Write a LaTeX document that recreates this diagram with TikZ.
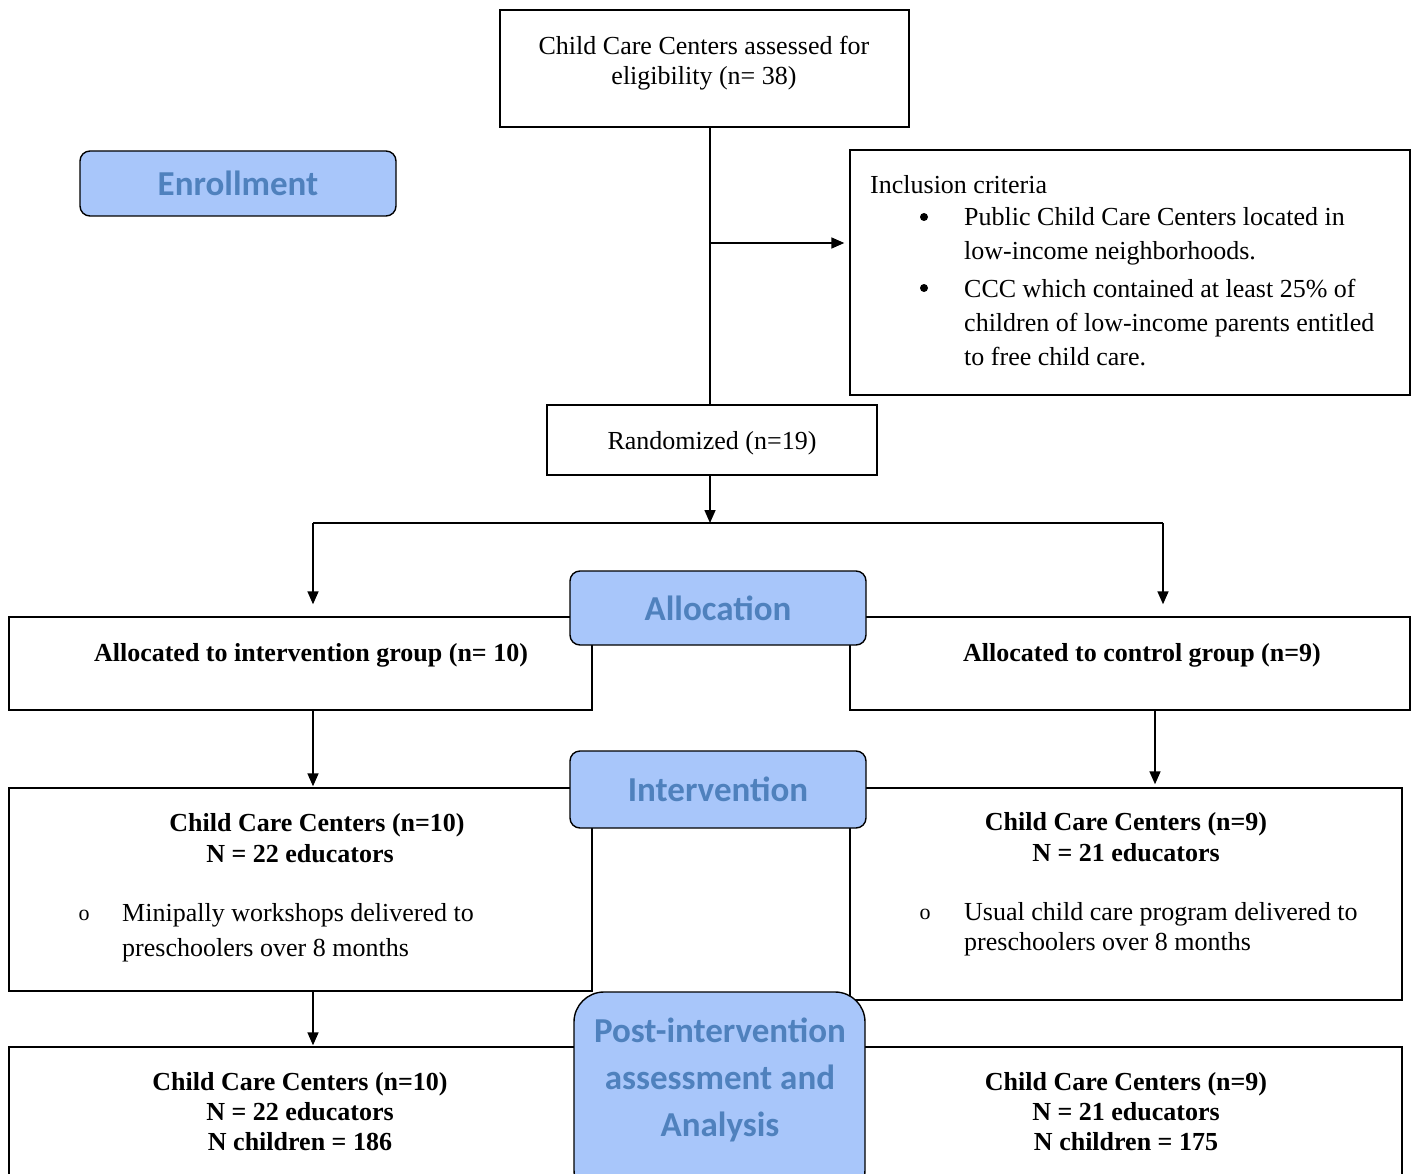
\documentclass[tikz,border=0pt]{standalone}
\usepackage{fontspec}
\setmainfont{Liberation Serif}
\newfontfamily\lblfont{Carlito}
\usetikzlibrary{arrows.meta}
\definecolor{lblfill}{HTML}{A8C6FA}
\definecolor{lbltext}{HTML}{4F81BD}
\begin{document}
\begin{tikzpicture}[x=1pt,y=-1pt,
  box/.style={draw, line width=1.4pt, rectangle, inner sep=0pt},
  lblbox/.style={draw, line width=1.4pt, fill=lblfill, rounded corners=10pt, inner sep=0pt,
    font=\lblfont\bfseries\fontsize{35}{47}\selectfont, text=lbltext, align=center},
  lbltxt/.style={inner sep=0pt, font=\lblfont\bfseries\fontsize{35}{47}\selectfont, text=lbltext, align=center},
  txt/.style={font=\fontsize{26}{30}\selectfont, align=center, inner sep=0pt},
  btxt/.style={font=\bfseries\fontsize{26}{30}\selectfont, align=center, inner sep=0pt},
  ltxt/.style={font=\fontsize{26}{30}\selectfont, inner sep=0pt, anchor=base west},
  bul/.style={fill, circle, inner sep=0pt, minimum size=8pt},
  obul/.style={font=\fontsize{22}{30}\selectfont, inner sep=0pt},
  arr/.style={line width=1.6pt, -{Triangle[length=13pt,width=11pt]}},
  ln/.style={line width=1.6pt}]
\clip (0,0) rectangle (1418,1174);
\fill[white] (0,0) rectangle (1418,1174);

% boxes
\node[box, minimum width=409, minimum height=117] (top) at (704.5,68.5) {};
\node[box, minimum width=560, minimum height=245] (incl) at (1130,272.5) {};
\node[box, minimum width=330, minimum height=70] (rand) at (712,440) {};
\node[box, minimum width=583, minimum height=93] (allocL) at (300.5,663.5) {};
\node[box, minimum width=560, minimum height=93] (allocR) at (1130,663.5) {};
\node[box, minimum width=583, minimum height=203] (intL) at (300.5,889.5) {};
\node[box, minimum width=552, minimum height=212] (intR) at (1126,894) {};
\node[box, minimum width=591, minimum height=153] (botL) at (304.5,1123.5) {};
\node[box, minimum width=552, minimum height=153] (botR) at (1126,1123.5) {};

% coordinates for connectors
\coordinate (spine) at (710,300);
\coordinate (branch) at (710,243);
\coordinate (split) at (710,523);
\coordinate (sl) at (313,523);
\coordinate (sr) at (1163,523);
\coordinate (rc) at (1155,700);

% connectors
\draw[ln] (top.south -| spine) -- (rand.north -| spine);
\draw[arr, shorten >=5pt] (branch) -- (branch -| incl.west);
\draw[arr] (rand.south -| spine) -- (split);
\draw[ln] (sl) -- (sr);
\draw[arr, shorten >=12pt] (sl) -- (sl |- allocL.north);
\draw[arr, shorten >=12pt] (sr) -- (sr |- allocR.north);
\draw[arr, shorten >=1pt] (allocL.south -| sl) -- (intL.north -| sl);
\draw[arr, shorten >=3pt] (allocR.south -| rc) -- (intR.north -| rc);
\draw[arr, shorten >=1pt] (intL.south -| sl) -- (botL.north -| sl);

% label boxes
\node[lblbox, minimum width=316, minimum height=65] (enroll) at (238,183.5) {Enrollment};
\node[lblbox, minimum width=296, minimum height=74] (allocation) at (718,608) {Allocation};
\node[lblbox, minimum width=296, minimum height=77] (intervention) at (718,789.5) {Intervention};
\node[lblbox, rounded corners=30pt, minimum width=291, minimum height=208] (post) at (719.5,1096) {};
\node[lbltxt] (posttxt) at (720,1080) {Post-intervention\\assessment and\\Analysis};

% texts
\node[txt] (toptxt) at (704,63) {Child Care Centers assessed for\\eligibility (n= 38)};
\node[txt] (randtxt) at (712,443) {Randomized (n=19)};
\node[ltxt] (incltitle) at (870,194) {Inclusion criteria};
\node[bul] (b1) at (924,217) {};
\node[ltxt] (b1l1) at (964,226) {Public Child Care Centers located in};
\node[ltxt] (b1l2) at (964,260) {low-income neighborhoods.};
\node[bul] (b2) at (924,288) {};
\node[ltxt] (b2l1) at (964,297) {CCC which contained at least 25\% of};
\node[ltxt] (b2l2) at (964,331) {children of low-income parents entitled};
\node[ltxt] (b2l3) at (964,365) {to free child care.};

\node[btxt] (allocLtxt) at (311,655) {Allocated to intervention group (n= 10)};
\node[btxt] (allocRtxt) at (1142,655) {Allocated to control group (n=9)};

\node[btxt] (intL1) at (317,825) {Child Care Centers (n=10)};
\node[btxt] (intL2) at (300,854) {N = 22 educators};
\node[obul] (intLb) at (84,915) {o};
\node[ltxt] (intLl1) at (122,921) {Minipally workshops delivered to};
\node[ltxt] (intLl2) at (122,956) {preschoolers over 8 months};

\node[btxt] (intR1) at (1126,824) {Child Care Centers (n=9)};
\node[btxt] (intR2) at (1126,853) {N = 21 educators};
\node[obul] (intRb) at (925,914) {o};
\node[ltxt] (intRl1) at (964,920) {Usual child care program delivered to};
\node[ltxt] (intRl2) at (964,950) {preschoolers over 8 months};

\node[btxt] (botLtxt) at (300,1112) {Child Care Centers (n=10)\\N = 22 educators\\N children = 186};
\node[btxt] (botRtxt) at (1126,1112) {Child Care Centers (n=9)\\N = 21 educators\\N children = 175};
\end{tikzpicture}
\end{document}
